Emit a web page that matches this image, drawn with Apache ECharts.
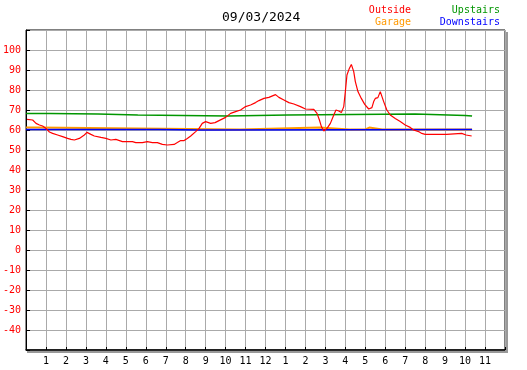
<!DOCTYPE html>
<html>
<head>
<meta charset="utf-8">
<script src="https://cdn.jsdelivr.net/npm/echarts@6/dist/echarts.min.js"></script>
<style>html,body{margin:0;padding:0;background:#fff;}#c{width:527px;height:370px;}</style>
</head>
<body>
<div id="c"></div>
<script>
// hour of day -> label
var xTickLabels = ["", "1","2","3","4","5","6","7","8","9","10","11","12","1","2","3","4","5","6","7","8","9","10","11",""];
var dateTitle = "09/03/2024";

// Outside temperature [hour, °F]
var outside = [
 [0.05,65.3],[0.33,65],[0.5,63.3],[0.67,62.5],[0.83,62],[1.0,60.8],[1.17,59],[1.33,58.3],[1.58,57.5],[1.83,56.7],
 [2.08,55.8],[2.25,55.3],[2.42,55],[2.67,55.8],[2.92,57.5],[3.05,58.8],[3.25,57.8],[3.42,57],[3.75,56.3],[4.0,55.8],
 [4.25,55],[4.5,55.3],[4.83,54.2],[5.33,54.2],[5.5,53.7],[5.83,53.7],[6.08,54.2],[6.33,53.7],[6.58,53.7],[6.83,52.8],
 [7.08,52.5],[7.42,52.8],[7.58,53.7],[7.75,54.7],[7.92,54.7],[8.08,55.8],[8.25,57],[8.5,59.2],[8.67,60.8],[8.83,63.3],
 [9.0,64.2],[9.25,63.3],[9.47,63.7],[9.67,64.7],[10.0,66.3],[10.25,68.3],[10.5,69.2],[10.75,70],[11.0,71.7],[11.25,72.5],
 [11.5,73.7],[11.67,74.7],[11.92,75.8],[12.17,76.3],[12.5,77.7],[12.67,76.3],[12.92,75],[13.17,73.7],[13.42,73],[13.75,71.7],
 [14.0,70.5],[14.42,70.3],[14.58,68.3],[14.7,65],[14.8,61.7],[14.92,59.5],[15.08,60.8],[15.25,63.3],[15.42,67.5],[15.53,70],
 [15.67,69.5],[15.8,68.7],[15.92,71.7],[16.0,79.2],[16.08,87.5],[16.2,90.8],[16.3,92.8],[16.42,89.2],[16.5,84.2],[16.63,79.2],
 [16.8,75.8],[16.97,72.8],[17.17,70.5],[17.33,71.2],[17.42,74.2],[17.5,75.8],[17.63,76.2],[17.75,79.2],[17.83,80],[17.92,74.2],
 [18.0,73.3],[18.08,70],[18.25,67.5],[18.5,65.8],[18.75,64.2],[19.0,62.5],[19.25,61.3],[19.42,60],[19.67,59.2],[19.83,58.3],
 [20.0,57.8],[21.08,57.8],[21.17,58.3],[21.83,58.3],[22.05,57.5],[22.33,57]
];
// Upstairs (step values)
var upstairs = [[0,68.3],[1.2,68],[3.6,67.5],[5.6,67],[10.1,67.5],[13.1,68],[19.5,67.3],[22.0,67],[22.35,67]];
// Downstairs (step values)
var downstairs = [[0,60.3],[6.65,60],[8.8,60.3],[22.35,60.3]];
// Garage (step values)
var garage = [[0,61.3],[0.55,60.3],[10.7,61.3],[14.7,60.3],[16.2,61.2],[16.3,60.3],[16.6,61.2],[16.67,60.3],[17.0,61.2],[17.2,60.3],[17.85,61.2],[17.92,60.3],[22.35,60.3]];

var FONT = "DejaVu Sans Mono";
var chart = echarts.init(document.getElementById('c'), null, {renderer:'canvas'});
chart.setOption({
  animation:false,
  backgroundColor:'#fff',
  title:[
    {text:dateTitle, left:222, top:11, padding:0, textStyle:{fontFamily:FONT, fontSize:13, fontWeight:'normal', color:'#000'}},
    {text:'Outside', right:116, top:5, padding:0, textStyle:{fontFamily:FONT, fontSize:10, fontWeight:'normal', color:'#ff0000'}},
    {text:'Garage', right:116, top:17, padding:0, textStyle:{fontFamily:FONT, fontSize:10, fontWeight:'normal', color:'#ff9900'}},
    {text:'Upstairs', right:27, top:5, padding:0, textStyle:{fontFamily:FONT, fontSize:10, fontWeight:'normal', color:'#009600'}},
    {text:'Downstairs', right:27, top:17, padding:0, textStyle:{fontFamily:FONT, fontSize:10, fontWeight:'normal', color:'#0000ff'}}
  ],
  graphic:[
    {type:'rect', z:-1, shape:{x:506, y:32, width:2, height:321}, style:{fill:'#999'}},
    {type:'rect', z:-1, shape:{x:27, y:351, width:481, height:2}, style:{fill:'#999'}}
  ],
  grid:{left:25, top:30, right:22, bottom:20, show:true, backgroundColor:'#fff', borderColor:'#000', borderWidth:1},
  xAxis:{type:'value', min:0, max:24, interval:1,
    axisLine:{show:true, onZero:false, lineStyle:{color:'#000', width:1.5}},
    axisTick:{show:true, inside:true, length:3, lineStyle:{color:'#000'}},
    axisLabel:{margin:6, color:'#000', fontFamily:FONT, fontSize:10,
      formatter:function(v){return xTickLabels[Math.round(v)]||'';}},
    splitLine:{show:true, lineStyle:{color:'#aaaaaa', width:1}}
  },
  yAxis:{type:'value', min:-50, max:110, interval:10,
    axisLine:{show:true, onZero:false, lineStyle:{color:'#000', width:1}},
    axisTick:{show:true, inside:true, length:4, lineStyle:{color:'#000'}},
    axisLabel:{margin:5, color:'#ff0000', fontFamily:FONT, fontSize:10,
      formatter:function(v){return (v<=-50||v>=110)?'':String(v);}},
    splitLine:{show:true, lineStyle:{color:'#aaaaaa', width:1}}
  },
  series:[
    {name:'Garage', type:'line', step:'end', data:garage, showSymbol:false, lineStyle:{color:'#ff9900', width:2}},
    {name:'Downstairs', type:'line', step:'end', data:downstairs, showSymbol:false, lineStyle:{color:'#0000ff', width:1.5}},
    {name:'Upstairs', type:'line', step:'end', data:upstairs, showSymbol:false, lineStyle:{color:'#009600', width:1.5}},
    {name:'Outside', type:'line', data:outside, showSymbol:false, lineStyle:{color:'#ff0000', width:1.2}}
  ]
});
</script>
</body>
</html>
